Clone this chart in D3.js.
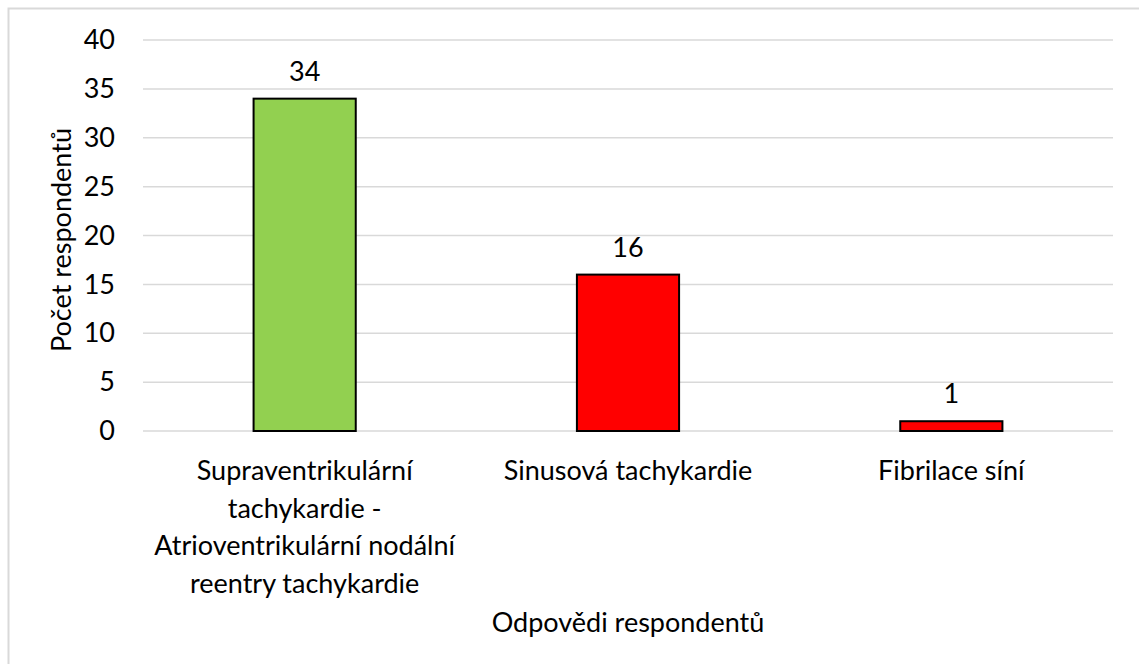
<!DOCTYPE html>
<meta charset="utf-8">
<style>
body { margin: 0; background: #fff; }
text { font-family: Lato, "Open Sans", sans-serif; fill: #000; }
</style>
<body>
<div class="chart"></div>
<script src="https://cdn.jsdelivr.net/npm/d3@7"></script>
<script>

var categories = [
  "Supraventrikulární\ntachykardie -\nAtrioventrikulární nodální\nreentry tachykardie",
  "Sinusová tachykardie",
  "Fibrilace síní"
];
var values = [34, 16, 1];
var barColors = ["#92d050", "#ff0000", "#ff0000"];
var yTicks = [0, 5, 10, 15, 20, 25, 30, 35, 40];

var width = 1139, height = 664;
var margin = {top: 40, right: 26, bottom: 233, left: 143};
var fontSize = "27px";

var svg = d3.select(".chart").append("svg")
    .attr("width", width)
    .attr("height", height);

// outer chart border
svg.append("rect")
    .attr("x", 8.5).attr("y", 8.5)
    .attr("width", width + 20).attr("height", height + 20)
    .attr("fill", "none")
    .attr("stroke", "#d9d9d9")
    .attr("stroke-width", 2);

var x = d3.scaleBand()
    .domain(categories)
    .range([margin.left, width - margin.right]);

var y = d3.scaleLinear()
    .domain([0, 40])
    .range([height - margin.bottom, margin.top]);

var barW = x.bandwidth() * 0.316;

// gridlines
svg.append("g")
    .selectAll("line")
    .data(yTicks)
    .enter().append("line")
    .attr("x1", margin.left)
    .attr("x2", width - margin.right)
    .attr("y1", function(d) { return y(d); })
    .attr("y2", function(d) { return y(d); })
    .attr("stroke", "#d9d9d9")
    .attr("stroke-width", 1.5);

// y axis labels
var yAxis = d3.axisLeft(y).tickValues(yTicks).tickSize(0).tickPadding(28);
svg.append("g")
    .attr("transform", "translate(" + margin.left + ",0)")
    .call(yAxis)
    .call(function(g) { g.select(".domain").remove(); })
    .selectAll("text")
    .style("font-family", "Lato, 'Open Sans', sans-serif")
    .style("font-size", fontSize)
    .attr("fill", "#000");

// bars
svg.append("g")
    .selectAll("rect")
    .data(values)
    .enter().append("rect")
    .attr("x", function(d, i) { return x(categories[i]) + x.bandwidth() / 2 - barW / 2; })
    .attr("y", function(d) { return y(d); })
    .attr("width", barW)
    .attr("height", function(d) { return y(0) - y(d); })
    .attr("fill", function(d, i) { return barColors[i]; })
    .attr("stroke", "#000")
    .attr("stroke-width", 2);

// value labels
svg.append("g")
    .selectAll("text")
    .data(values)
    .enter().append("text")
    .attr("x", function(d, i) { return x(categories[i]) + x.bandwidth() / 2; })
    .attr("y", function(d) { return y(d) - 18; })
    .attr("text-anchor", "middle")
    .style("font-size", fontSize)
    .text(function(d) { return d; });

// category labels
var cat = svg.append("g")
    .selectAll("text")
    .data(categories)
    .enter().append("text")
    .attr("text-anchor", "middle")
    .attr("x", function(d) { return x(d) + x.bandwidth() / 2; })
    .attr("y", 480)
    .style("font-size", fontSize);

cat.selectAll("tspan")
    .data(function(d) { return d.split("\n"); })
    .enter().append("tspan")
    .attr("x", function() { return this.parentNode.getAttribute("x"); })
    .attr("dy", function(d, i) { return i ? 37.5 : 0; })
    .text(function(d) { return d; });

// axis titles
svg.append("text")
    .attr("text-anchor", "middle")
    .attr("x", (margin.left + width - margin.right) / 2)
    .attr("y", 632)
    .style("font-size", fontSize)
    .text("Odpovědi respondentů");

svg.append("text")
    .attr("text-anchor", "middle")
    .attr("transform", "translate(71,240) rotate(-90)")
    .style("font-size", fontSize)
    .text("Počet respondentů");

</script>
</body>
